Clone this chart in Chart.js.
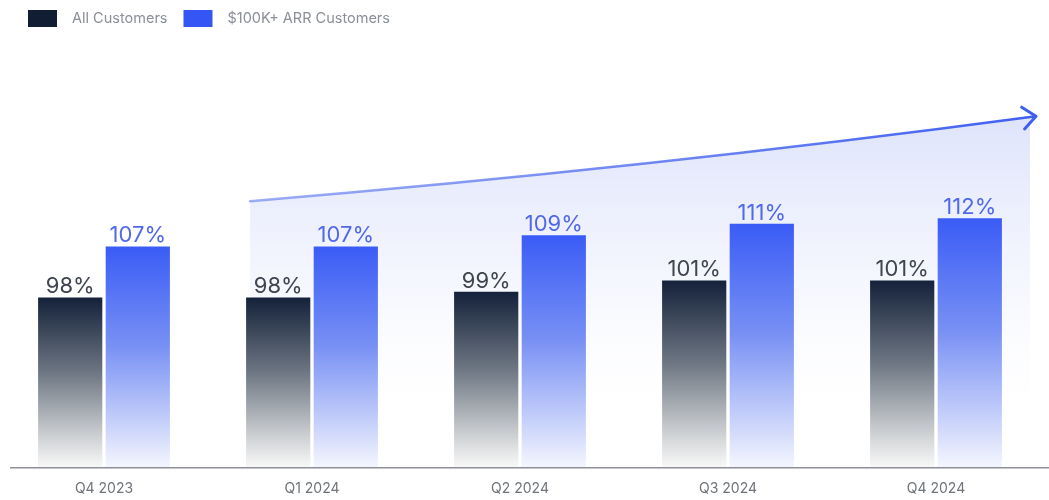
<!DOCTYPE html>
<html>
<head>
<meta charset="utf-8">
<script src="https://cdn.jsdelivr.net/npm/chart.js@4.4.1/dist/chart.umd.min.js"></script>
<style>
  html, body { margin: 0; padding: 0; background: #fff; }
</style>
</head>
<body>
<canvas id="nrrChart" width="1049" height="500"></canvas>
<script>
const quarters = ['Q4 2023', 'Q1 2024', 'Q2 2024', 'Q3 2024', 'Q4 2024'];
const allCustomersNrr = [98, 98, 99, 101, 101];
const bigCustomersNrr = [107, 107, 109, 111, 112];
const seriesNames = ['All Customers', '$100K+ ARR Customers'];
// trend arrow start / end heights, in y-axis units
const trendArrow = [115, 130];

const FONT = 'Inter, "Noto Sans", sans-serif';

function barFill(stops) {
    return (ctx) => {
        const chart = ctx.chart;
        const area = chart.chartArea;
        if (!area || ctx.type !== 'data') return stops[0][1];
        const yTop = chart.scales.y.getPixelForValue(ctx.parsed.y);
        const g = chart.ctx.createLinearGradient(0, yTop, 0, area.bottom);
        stops.forEach(([pos, color]) => g.addColorStop(pos, color));
        return g;
    };
}

const darkStops = [[0, '#14213a'], [0.45, '#6f7884'], [0.8, '#c9cccf'], [1, '#f8f8f8']];
const blueStops = [[0, '#3a5cf6'], [0.45, '#7890f4'], [0.8, '#c6d0fa'], [1, '#f4f6fe']];
const legendColors = ['#111d33', '#3556f4'];
const labelColors = ['#3f4450', '#5068ea'];

// shaded wedge + arrow behind the Q1-Q4 2024 bars
const trendBackdrop = {
    id: 'trendBackdrop',
    beforeDatasetsDraw(chart) {
        const { ctx, chartArea, scales } = chart;
        const first = chart.getDatasetMeta(0).data[1];
        if (!first) return;
        const x0 = first.x - first.width / 2 + 4;
        const x1 = chartArea.right - 4;
        const xShade = chartArea.right - 10;
        const y0 = scales.y.getPixelForValue(trendArrow[0]);
        const y1 = scales.y.getPixelForValue(trendArrow[1]);
        const cx = (x0 + x1) / 2;
        const cy = (y0 + y1) / 2 + 10;

        ctx.save();
        // fill under the curve
        const shade = ctx.createLinearGradient(0, y1, 0, chartArea.bottom - 30);
        shade.addColorStop(0, 'rgba(116, 140, 240, 0.24)');
        shade.addColorStop(0.5, 'rgba(140, 160, 240, 0.09)');
        shade.addColorStop(1, 'rgba(255, 255, 255, 0)');
        ctx.beginPath();
        ctx.moveTo(x0, y0);
        ctx.quadraticCurveTo(cx, cy, x1, y1);
        ctx.lineTo(xShade, y1 + 3);
        ctx.lineTo(xShade, chartArea.bottom);
        ctx.lineTo(x0, chartArea.bottom);
        ctx.closePath();
        ctx.fillStyle = shade;
        ctx.fill();

        // arrow line
        const stroke = ctx.createLinearGradient(x0, 0, x1, 0);
        stroke.addColorStop(0, 'rgba(95, 120, 240, 0.6)');
        stroke.addColorStop(1, '#3f5ff0');
        ctx.strokeStyle = stroke;
        ctx.lineWidth = 2.5;
        ctx.lineCap = 'round';
        ctx.lineJoin = 'round';
        ctx.beginPath();
        ctx.moveTo(x0, y0);
        ctx.quadraticCurveTo(cx, cy, x1, y1);
        ctx.stroke();

        // open arrow head
        const ang = Math.atan2(y1 - cy, x1 - cx);
        const len = 17;
        const spread = 0.7;
        ctx.beginPath();
        ctx.moveTo(x1 - len * Math.cos(ang - spread), y1 - len * Math.sin(ang - spread));
        ctx.lineTo(x1, y1);
        ctx.lineTo(x1 - len * Math.cos(ang + spread), y1 - len * Math.sin(ang + spread));
        ctx.strokeStyle = '#3f5ff0';
        ctx.lineWidth = 3;
        ctx.stroke();
        ctx.restore();
    }
};

// value labels, axis line and legend
const overlay = {
    id: 'overlay',
    afterDatasetsDraw(chart) {
        const { ctx, chartArea } = chart;
        ctx.save();
        ctx.font = `400 22px ${FONT}`;
        ctx.textAlign = 'center';
        ctx.textBaseline = 'alphabetic';
        chart.data.datasets.forEach((ds, di) => {
            chart.getDatasetMeta(di).data.forEach((bar, i) => {
                ctx.fillStyle = labelColors[di];
                ctx.fillText(`${ds.data[i]}%`, bar.x, bar.y - 4);
            });
        });

        ctx.strokeStyle = '#8d9098';
        ctx.lineWidth = 1.5;
        ctx.beginPath();
        ctx.moveTo(10, chartArea.bottom + 0.5);
        ctx.lineTo(chart.width, chartArea.bottom + 0.5);
        ctx.stroke();

        ctx.font = `400 14.5px ${FONT}`;
        ctx.textAlign = 'left';
        ctx.textBaseline = 'middle';
        let x = 28;
        seriesNames.forEach((name, i) => {
            ctx.fillStyle = legendColors[i];
            ctx.fillRect(x, 10, 29, 17);
            ctx.fillStyle = '#8a8e96';
            ctx.fillText(name, x + 44, 18.5);
            x += 44 + ctx.measureText(name).width + 16;
        });
        ctx.restore();
    }
};

new Chart(document.getElementById('nrrChart'), {
    type: 'bar',
    plugins: [trendBackdrop, overlay],
    data: {
        labels: quarters,
        datasets: [
            {
                label: seriesNames[0],
                data: allCustomersNrr,
                backgroundColor: barFill(darkStops),
                borderWidth: 0
            },
            {
                label: seriesNames[1],
                data: bigCustomersNrr,
                backgroundColor: barFill(blueStops),
                borderWidth: 0
            }
        ]
    },
    options: {
        responsive: false,
        animation: false,
        layout: { padding: { top: 105, bottom: -10, left: 0, right: 9 } },
        datasets: {
            bar: { barPercentage: 0.95, categoryPercentage: 0.65 }
        },
        plugins: {
            legend: { display: false },
            tooltip: { enabled: false }
        },
        scales: {
            x: {
                grid: { display: false, drawTicks: false },
                border: { display: false },
                ticks: {
                    padding: 13,
                    color: '#6f737a',
                    font: { family: FONT, size: 14 }
                }
            },
            y: {
                display: false,
                min: 68,
                max: 132
            }
        }
    }
});
</script>
</body>
</html>
